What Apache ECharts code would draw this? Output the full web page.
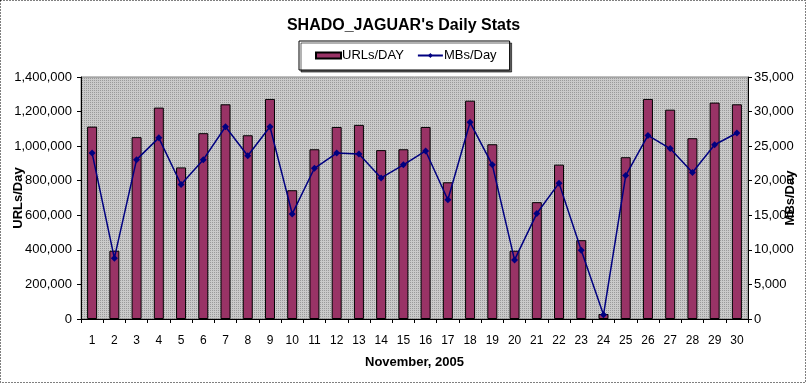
<!DOCTYPE html>
<html>
<head>
<meta charset="utf-8">
<script src="https://cdn.jsdelivr.net/npm/echarts@6/dist/echarts.min.js"></script>
<style>
html,body{margin:0;padding:0;background:#fff;}
#c{width:807px;height:389px;}
</style>
</head>
<body>
<div id="c"></div>
<script>
var days = ['1','2','3','4','5','6','7','8','9','10','11','12','13','14','15','16','17','18','19','20','21','22','23','24','25','26','27','28','29','30'];
var urlsPerDay = [1113000,395000,1052000,1223000,877000,1075000,1242000,1063000,1273000,745000,982000,1111000,1123000,977000,982000,1111000,791000,1263000,1011000,395000,676000,893000,456000,29000,936000,1273000,1211000,1046000,1252000,1242000];
var mbsPerDay = [24000,8800,23050,26200,19450,23050,27800,23600,27800,15200,21800,24000,23850,20400,22300,24300,17250,28450,22300,8550,15250,19650,9950,600,20750,26550,24650,21200,25200,26900];
var leftTicks = [0,200000,400000,600000,800000,1000000,1200000,1400000];
var rightTicks = [0,5000,10000,15000,20000,25000,30000,35000];

function fmt(v){ return String(v).replace(/\B(?=(\d{3})+(?!\d))/g, ','); }

// dotted gray plot background pattern
var pc = document.createElement('canvas');
pc.width = 2; pc.height = 2;
var pctx = pc.getContext('2d');
pctx.fillStyle = '#cacaca'; pctx.fillRect(0,0,2,2);
pctx.fillStyle = '#9a9a9a'; pctx.fillRect(0,0,1,1);

var FONT = 'Liberation Sans, Arial, sans-serif';
var chart = echarts.init(document.getElementById('c'), null, {renderer:'canvas'});
chart.setOption({
  animation: false,
  backgroundColor: '#fff',
  title: {
    text: "SHADO_JAGUAR's Daily Stats",
    left: 'center', top: 13,
    textStyle: {fontFamily: FONT, fontSize: 16, fontWeight: 'bold', color: '#000'}
  },
  legend: {
    left: 299, top: 41,
    padding: [8, 13, 8, 16],
    borderColor: '#000', borderWidth: 1,
    backgroundColor: '#fff',
    shadowColor: 'rgba(0,0,0,0.6)', shadowOffsetX: 2, shadowOffsetY: 2, shadowBlur: 0,
    itemGap: 13,
    itemWidth: 25, itemHeight: 6,
    textStyle: {fontFamily: FONT, fontSize: 13, color: '#000', padding: [0,0,0,-4]},
    data: [
      {name: 'URLs/DAY', icon: 'rect'},
      {name: 'MBs/Day'}
    ]
  },
  grid: {
    left: 81, right: 59, top: 77, bottom: 70,
    outerBoundsMode: 'none',
    containLabel: false,
    show: true,
    backgroundColor: {image: pc, repeat: 'repeat'},
    borderColor: '#808080', borderWidth: 1
  },
  xAxis: {
    type: 'category',
    data: days,
    name: 'November, 2005',
    nameLocation: 'middle',
    nameGap: 37,
    nameMoveOverlap: false,
    nameTextStyle: {fontFamily: FONT, fontSize: 13, fontWeight: 'bold', color: '#000'},
    axisLine: {lineStyle: {color: '#000'}},
    axisTick: {show: true, length: 4, lineStyle: {color: '#000'}},
    axisLabel: {fontFamily: FONT, fontSize: 12, color: '#000', margin: 16, interval: 0},
    splitLine: {show: false}
  },
  yAxis: [
    {
      type: 'value', min: 0, max: 1400000, interval: 200000,
      name: 'URLs/Day', nameLocation: 'middle', nameRotate: 90, nameGap: 56,
      nameMoveOverlap: false,
      nameTextStyle: {fontFamily: FONT, fontSize: 13, fontWeight: 'bold', color: '#000'},
      axisLine: {show: true, lineStyle: {color: '#000'}},
      axisTick: {show: true, length: 4, lineStyle: {color: '#000'}},
      axisLabel: {fontFamily: FONT, fontSize: 13, color: '#000', margin: 9, formatter: function(v){return fmt(v);}},
      splitLine: {show: false}
    },
    {
      type: 'value', min: 0, max: 35000, interval: 5000,
      name: 'MBs/Day', nameLocation: 'middle', nameRotate: 90, nameGap: 36,
      nameMoveOverlap: false,
      nameTextStyle: {fontFamily: FONT, fontSize: 13, fontWeight: 'bold', color: '#000'},
      axisLine: {show: true, lineStyle: {color: '#000'}},
      axisTick: {show: true, length: 4, lineStyle: {color: '#000'}},
      axisLabel: {fontFamily: FONT, fontSize: 13, color: '#000', margin: 6, formatter: function(v){return fmt(v);}},
      splitLine: {show: false}
    }
  ],
  series: [
    {
      name: 'URLs/DAY', type: 'bar', yAxisIndex: 0,
      data: urlsPerDay,
      barWidth: 10,
      itemStyle: {color: '#993366', borderColor: '#000', borderWidth: 1}
    },
    {
      name: 'MBs/Day', type: 'line', yAxisIndex: 1,
      data: mbsPerDay,
      symbol: 'diamond', symbolSize: 7,
      lineStyle: {color: '#000080', width: 1.5},
      itemStyle: {color: '#000080'}
    }
  ],
  graphic: [
    {
      type: 'rect', silent: true, z: 100,
      shape: {x: 0.5, y: 0.5, width: 805, height: 382},
      style: {fill: 'none', stroke: '#000', lineWidth: 1, lineDash: [1, 2]}
    }
  ]
});
</script>
</body>
</html>
